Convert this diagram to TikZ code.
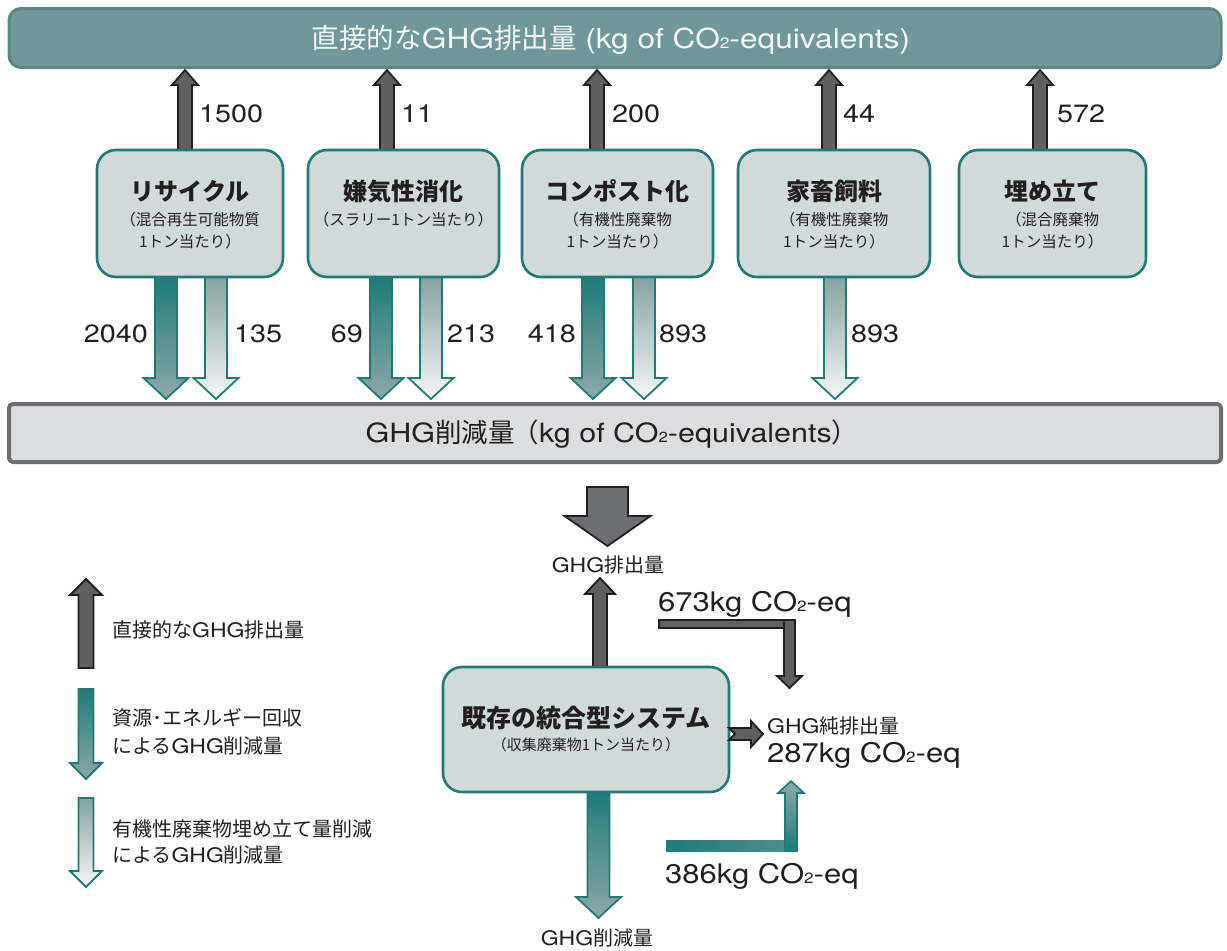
\documentclass[tikz,border=0pt]{standalone}
\usepackage{fontspec}
\setmainfont{TeX Gyre Heros}[FakeStretch=1.15]
\newfontfamily\jp{Noto Sans CJK JP}
\definecolor{teal1}{HTML}{227A78}
\definecolor{boxfill}{HTML}{D0DADB}
\definecolor{barfill}{HTML}{6E9899}
\definecolor{barline}{HTML}{5A8687}
\definecolor{gfill}{HTML}{DCDDDF}
\definecolor{gline}{HTML}{6D6E71}
\definecolor{darkarr}{HTML}{5F6062}
\definecolor{ink}{HTML}{231F20}
\definecolor{tealtop}{HTML}{1F7B79}
\definecolor{tealbot}{HTML}{8CA9A9}
\definecolor{lighttop}{HTML}{86A2A2}
\definecolor{lightbot}{HTML}{F5F7F7}
\definecolor{barink}{HTML}{F4F7F7}
\newcommand\jj[1]{{\jp #1}}
\newcommand\ctwo{CO\scalebox{0.55}{2}}
\newcommand\arrdown[7]{\path[#7] (#1-#4,#2) -- (#1+#4,#2) -- (#1+#4,#3-#6) -- (#1+#5,#3-#6) -- (#1,#3) -- (#1-#5,#3-#6) -- (#1-#4,#3-#6) -- cycle;}
\newcommand\arrup[7]{\path[#7] (#1-#4,#2) -- (#1-#4,#3+#6) -- (#1-#5,#3+#6) -- (#1,#3) -- (#1+#5,#3+#6) -- (#1+#4,#3+#6) -- (#1+#4,#2) -- cycle;}
\tikzset{
  darkA/.style={fill=darkarr, draw=ink, line width=1.8pt, line join=miter},
  tealA/.style={top color=tealtop, bottom color=tealbot, draw=teal1, line width=1.8pt, line join=miter},
  lightA/.style={top color=lighttop, bottom color=lightbot, draw=teal1, line width=1.8pt, line join=miter},
  procbox/.style={draw=teal1, line width=2.6pt, fill=boxfill, rounded corners=19pt, inner sep=0pt},
  txt/.style={inner sep=0pt, text=ink, text depth=0pt},
  num/.style={txt, font=\fontsize{25}{25}\selectfont, text height=18.5pt},
  big/.style={txt, font=\fontsize{27}{27}\selectfont, text height=20pt},
  ttl/.style={txt, font=\jp\bfseries\fontsize{24}{24}\selectfont, text height=17.8pt},
  sub/.style={txt, font=\jp\fontsize{15.5}{15.5}\selectfont, text height=11.5pt},
  lab/.style={txt, font=\fontsize{20}{20}\selectfont, text height=14.8pt},
}
\begin{document}
\begin{tikzpicture}[x=1pt, y=-1pt]
\useasboundingbox (0,0) rectangle (1227,951);

% ---------- up arrows (direct emissions)
\foreach \xx in {185,387,597,829,1040}{\arrup{\xx}{151}{70}{7}{13}{15}{darkA}}
% ---------- down arrows
\arrdown{166}{277}{399}{11}{22.5}{21}{tealA}
\arrdown{216}{277}{399}{11}{22.5}{21}{lightA}
\arrdown{381}{277}{399}{11}{22.5}{21}{tealA}
\arrdown{431}{277}{399}{11}{22.5}{21}{lightA}
\arrdown{593}{277}{399}{11}{22.5}{21}{tealA}
\arrdown{644}{277}{399}{11}{22.5}{21}{lightA}
\arrdown{835}{277}{399}{11}{22.5}{21}{lightA}

% ---------- top bar
\node[draw=barline, fill=barfill, line width=3pt, rounded corners=12pt, minimum width=1212pt, minimum height=59pt, inner sep=0pt,
      font=\fontsize{27.5}{27.5}\selectfont, text=barink, text height=20.4pt, text depth=0pt] (top) at (615,38)
  {\hspace*{-8pt}\jj{直接的な}GHG\jj{排出量} (kg of \ctwo-equivalents)};
% ---------- bottom bar
\node[draw=gline, fill=gfill, line width=4pt, rounded corners=4pt, minimum width=1212pt, minimum height=58pt, inner sep=0pt,
      font=\fontsize{26.5}{26.5}\selectfont, text=ink, text height=19.6pt, text depth=0pt] (red) at (615,433)
  {\hspace*{-6pt}GHG\jj{削減量}\hspace{-2pt}\jj{（}kg of \ctwo-equivalents\jj{）}};

% ---------- process boxes
\node[procbox, minimum width=186pt, minimum height=127pt] (b1) at (190,213.5) {};
\node[procbox, minimum width=191pt, minimum height=127pt] (b2) at (403.5,213.5) {};
\node[procbox, minimum width=191pt, minimum height=127pt] (b3) at (617.5,213.5) {};
\node[procbox, minimum width=192pt, minimum height=127pt] (b4) at (834,213.5) {};
\node[procbox, minimum width=187pt, minimum height=127pt] (b5) at (1052.5,213.5) {};

\node[ttl] (t1) at (190,192) {リサイクル};
\node[sub] (s1a) at (190,220) {（混合再生可能物質};
\node[sub] (s1b) at (190,242) {1トン当たり）};
\node[ttl] (t2) at (403.5,192) {嫌気性消化};
\node[sub] (s2a) at (403.5,220) {（スラリー1トン当たり）};
\node[ttl] (t3) at (617.5,192) {コンポスト化};
\node[sub] (s3a) at (617.5,220) {（有機性廃棄物};
\node[sub] (s3b) at (617.5,242) {1トン当たり）};
\node[ttl] (t4) at (834,192) {家畜飼料};
\node[sub] (s4a) at (834,220) {（有機性廃棄物};
\node[sub] (s4b) at (834,242) {1トン当たり）};
\node[ttl] (t5) at (1052.5,192) {埋め立て};
\node[sub] (s5a) at (1052.5,220) {（混合廃棄物};
\node[sub] (s5b) at (1052.5,242) {1トン当たり）};

% ---------- numbers
\node[num, anchor=west] (n1) at (199,113) {1500};
\node[num, anchor=west] (n2) at (401,113) {11};
\node[num, anchor=west] (n3) at (612,113) {200};
\node[num, anchor=west] (n4) at (843,113) {44};
\node[num, anchor=west] (n5) at (1057,113) {572};
\node[num, anchor=east] (d1) at (148,333) {2040};
\node[num, anchor=west] (d2) at (234,333) {135};
\node[num, anchor=east] (d3) at (363,333) {69};
\node[num, anchor=west] (d4) at (447,333) {213};
\node[num, anchor=east] (d5) at (576,333) {418};
\node[num, anchor=west] (d6) at (659,333) {893};
\node[num, anchor=west] (d7) at (851,333) {893};

% ---------- lower section
\arrdown{607.5}{487}{546}{20.5}{43}{30}{darkA, fill=gline}
\node[lab] (emis) at (608,565) {GHG\jj{排出量}};
\arrup{600}{668}{578}{7}{15}{16}{darkA}
\arrdown{598.5}{792}{918}{11}{22.5}{21}{tealA}
\node[lab] (redl) at (597,938) {GHG\jj{削減量}};

% elbow 673
\path[darkA] (659,620) -- (795,620) -- (795,676) -- (802,676) -- (789.5,688) -- (777,676) -- (784,676) -- (784,628) -- (659,628) -- cycle;
\draw[ink, line width=1.2pt] (784,620) -- (784,628);
\node[big, anchor=west] (v673) at (658,601) {673kg \ctwo-eq};

% elbow 386
\fill[left color=tealtop, right color=tealtop!60!tealbot] (666,840) rectangle (785,851);
\path[top color=tealbot, bottom color=tealtop, draw=teal1, line width=1.6pt, line join=miter]
  (785,851) -- (785,793) -- (778,793) -- (791,781) -- (804,793) -- (797,793) -- (797,851) -- cycle;
\node[big, anchor=west] (v386) at (665,873) {386kg \ctwo-eq};

% main box
\node[procbox, minimum width=286pt, minimum height=125pt] (mb) at (586,729.5) {};
\node[ttl, font=\jp\bfseries\fontsize{25}{25}\selectfont, text height=18.5pt] (mbt) at (586,718) {既存の統合型システム};
\node[sub, font=\jp\fontsize{15}{15}\selectfont, text height=11.1pt] (mbs) at (586,745) {（収集廃棄物1トン当たり）};

% small net arrow
\path[darkA] (729,728) -- (751,728) -- (751,721) -- (763,734) -- (751,747) -- (751,740) -- (729,740) -- (735,734) -- cycle;
\node[lab, anchor=west] (netl) at (767,726) {GHG\jj{純排出量}};
\node[big, anchor=west] (v287) at (767,752) {287kg \ctwo-eq};

% ---------- legend
\arrup{86}{668}{579}{7.5}{16}{16}{darkA}
\arrdown{86}{689}{779}{7.5}{16}{16}{tealA}
\arrdown{86}{798}{887}{7.5}{16}{16}{lightA}
\node[lab, anchor=west] (lg1) at (112,630) {\jj{直接的な}GHG\jj{排出量}};
\node[lab, anchor=west] (lg2) at (112,718) {\jj{資源･エネルギー回収}};
\node[lab, anchor=west] (lg3) at (112,746) {\jj{による}GHG\jj{削減量}};
\node[lab, anchor=west] (lg4) at (112,829) {\jj{有機性廃棄物埋め立て量削減}};
\node[lab, anchor=west] (lg5) at (112,855) {\jj{による}GHG\jj{削減量}};
\end{tikzpicture}
\end{document}
